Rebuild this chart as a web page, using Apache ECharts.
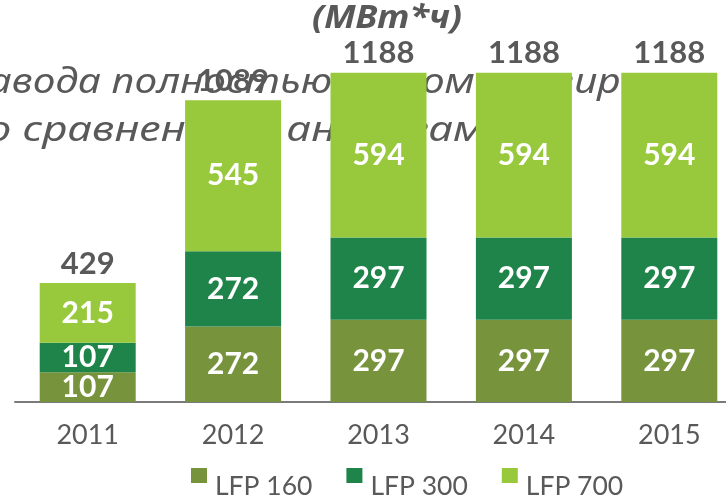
<!DOCTYPE html>
<html>
<head>
<meta charset="utf-8">
<script src="https://cdn.jsdelivr.net/npm/echarts@6/dist/echarts.min.js"></script>
<style>
    html, body { margin: 0; padding: 0; background: #fff; }
    #chart { width: 726px; height: 501px; }
</style>
</head>
<body>
<div id="chart"></div>
<script>
// годы и выработка по типам (МВт*ч)
var years = ['2011', '2012', '2013', '2014', '2015'];
var lfp160 = [107, 272, 297, 297, 297];
var lfp300 = [107, 272, 297, 297, 297];
var lfp700 = [215, 545, 594, 594, 594];
var names = ['LFP 160', 'LFP 300', 'LFP 700'];

var totals = years.map(function (y, i) {
    return lfp160[i] + lfp300[i] + lfp700[i];
});

var grey = '#595959';
var colors = ['#77933C', '#1F8449', '#98C93C'];
var lineFont = 'italic 35px "Noto Sans"';

var chart = echarts.init(document.getElementById('chart'));

function segment(name, data) {
    return {
        name: name,
        type: 'bar',
        stack: 'sum',
        barWidth: 96,
        data: data,
        emphasis: { disabled: true },
        label: {
            show: true,
            position: 'inside',
            color: '#fff',
            fontFamily: 'Lato',
            fontWeight: 'bold',
            fontSize: 30
        }
    };
}

// подгоняем строку слайда под видимые между столбцами куски:
// [начало строки до метки, x метки] -> сдвиг и растяжение по x
var ctx = document.createElement('canvas').getContext('2d');
ctx.font = lineFont;
function fitLine(text, y, marks) {
    var n = marks.length, sw = 0, sx = 0, sww = 0, swx = 0;
    marks.forEach(function (m) {
        var w = ctx.measureText(m[0]).width;
        sw += w; sx += m[1]; sww += w * w; swx += w * m[1];
    });
    var s = (n * swx - sw * sx) / (n * sww - sw * sw);
    var x0 = (sx - s * sw) / n;
    return {
        type: 'text',
        x: x0,
        y: y,
        scaleX: s,
        z: 0,
        style: {
            text: text,
            font: lineFont,
            verticalAlign: 'middle',
            fill: grey
        }
    };
}

chart.setOption({
    animation: false,
    color: colors,
    grid: {
        left: 15,
        top: 14,
        width: 727,
        height: 388,
        outerBoundsMode: 'none'
    },
    graphic: [{
        type: 'text',
        x: 387,
        y: 19,
        scaleX: 1.12,
        z: 0,
        style: {
            text: '(МВт*ч)',
            align: 'center',
            verticalAlign: 'middle',
            fontFamily: 'Noto Sans',
            fontStyle: 'italic',
            fontWeight: 'bold',
            fontSize: 32,
            fill: grey
        }
    },
        fitLine('завода полностью автоматизирован', 83, [
            ['з', -1],
            ['завода ', 97],
            ['завода полностью', 332],
            ['завода полностью авт', 427],
            ['завода полностью автоматизир', 620]
        ]),
        fitLine('по сравнению с аналогами', 131, [
            ['по сравнен', 187],
            ['по сравнению с ', 284],
            ['по сравнению с аналог', 430]
        ])
    ],
    legend: {
        data: names,
        left: 191,
        top: 468,
        padding: 0,
        itemGap: 34,
        itemWidth: 19,
        itemHeight: 37,
        // квадрат сверху слева, как на слайде
        icon: 'path://M0,0L16,0L16,15L0,15Z M19,37L19,37',
        textStyle: {
            fontFamily: 'Lato',
            fontSize: 26.5,
            color: grey
        }
    },
    xAxis: {
        type: 'category',
        data: years,
        axisLine: { lineStyle: { color: '#7a7a7a', width: 2 } },
        axisTick: { show: false },
        axisLabel: {
            margin: 20,
            fontFamily: 'Lato',
            fontSize: 27,
            color: grey
        }
    },
    yAxis: {
        type: 'value',
        min: 0,
        max: 1400,
        show: false
    },
    series: [
        segment(names[0], lfp160),
        segment(names[1], lfp300),
        segment(names[2], lfp700),
        {
            // пустой слой сверху только для подписи суммы
            name: 'total',
            type: 'bar',
            stack: 'sum',
            barWidth: 96,
            silent: true,
            data: years.map(function () { return 0; }),
            itemStyle: { color: 'transparent' },
            label: {
                show: true,
                position: 'top',
                distance: 4,
                formatter: function (p) { return totals[p.dataIndex]; },
                color: grey,
                fontFamily: 'Lato',
                fontWeight: 'bold',
                fontSize: 31
            }
        }
    ]
});
</script>
</body>
</html>
